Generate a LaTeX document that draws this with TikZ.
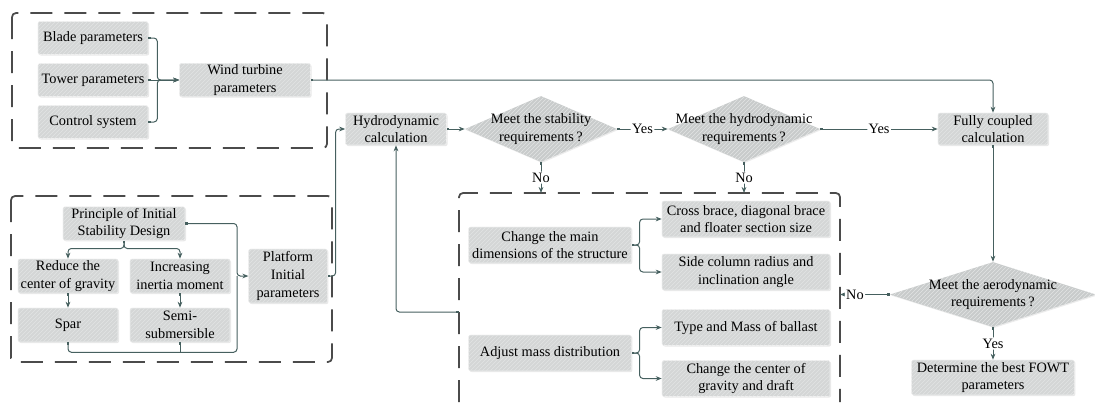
\documentclass[tikz,border=0pt]{standalone}
\usepackage{fontspec}
\setmainfont{LiberationSerif}[Extension=.ttf, UprightFont=*-Regular, BoldFont=*-Bold, ItalicFont=*-Italic, BoldItalicFont=*-BoldItalic]
\usetikzlibrary{shapes.geometric,arrows.meta,patterns,shadows}

\definecolor{boxgray}{RGB}{212,214,214}
\definecolor{decgray}{RGB}{200,203,203}
\definecolor{hatch}{RGB}{226,228,228}
\definecolor{linecol}{RGB}{70,96,95}
\definecolor{dashcol}{RGB}{75,75,75}

\tikzset{
  txt/.style={font=\rmfamily\fontsize{10.75}{13.2}\selectfont},
  blk/.style={txt, rectangle, rounded corners=1.5pt, fill=boxgray, draw=white!88!gray, line width=0.4pt,
    postaction={pattern=north east lines, pattern color=hatch},
    drop shadow={opacity=0.18, shadow xshift=0.8pt, shadow yshift=-0.8pt},
    inner sep=1pt, align=center},
  dec/.style={diamond, fill=decgray, inner sep=0pt,
    postaction={pattern=north east lines, pattern color=hatch},
    drop shadow={opacity=0.15, shadow xshift=0.8pt, shadow yshift=-0.8pt}},
  dectext/.style={txt, align=center},
  conn/.style={draw=linecol, line width=0.75pt, rounded corners=2.5pt,
    arrows={Square[length=2pt,width=2pt]-Stealth[length=4.5pt,width=3.5pt]}},
  stub/.style={draw=linecol, line width=0.75pt, rounded corners=2.5pt,
    arrows={Square[length=2pt,width=2pt]-}},
  lbl/.style={txt, fill=white, inner sep=1pt},
  grp/.style={draw=dashcol, line width=1.3pt, dash pattern=on 16.5pt off 9pt, rounded corners=3pt}
}

\begin{document}
\begin{tikzpicture}[x=0.75pt,y=-0.75pt]
\useasboundingbox (0,0) rectangle (1095,405);

% dashed groups
\draw[grp] (12,13) rectangle (327,148);
\draw[grp] (11,196) rectangle (332,362);
\draw[grp] (459,402) -- (459,193) -- (840,193) -- (840,402);

% wind turbine group
\node[blk, minimum width=82.5pt, minimum height=24.75pt] (blade) at (93,38) {Blade parameters};
\node[blk, minimum width=82.5pt, minimum height=24.75pt] (tower) at (93,80) {Tower parameters};
\node[blk, minimum width=82.5pt, minimum height=24.75pt] (ctrl) at (93,122) {Control system};
\node[blk, minimum width=98.25pt, minimum height=24.75pt] (wind) at (245,80) {Wind turbine\\parameters};

\draw[conn] (blade.east) -- ++(9,0) |- (wind.west);
\draw[conn] (tower.east) -- (wind.west);
\draw[conn] (ctrl.east) -- ++(9,0) |- (wind.west);

% platform group
\node[blk, minimum width=91.5pt, minimum height=24.75pt] (prin) at (124,223.5) {Principle of Initial\\Stability Design};
\node[blk, minimum width=75pt, minimum height=25.5pt] (red) at (68,276) {Reduce the\\center of gravity};
\node[blk, minimum width=75pt, minimum height=25.5pt] (inc) at (180,276) {Increasing\\inertia moment};
\node[blk, minimum width=75pt, minimum height=25.5pt] (spar) at (68,325) {Spar};
\node[blk, minimum width=75pt, minimum height=25.5pt] (semi) at (180,325) {Semi-\\submersible};
\node[blk, minimum width=59pt, minimum height=40.5pt] (plat) at (288,276) {Platform\\Initial\\parameters};
\coordinate (pj) at (237,276);

\draw[conn] (prin.south) -- ++(0,8) -| (red.north);
\draw[conn] (prin.south) -- ++(0,8) -| (inc.north);
\draw[conn] (red.south) -- (spar.north);
\draw[conn] (inc.south) -- (semi.north);
\draw[conn] (prin.east) -| (pj) -- (plat.west);
\draw[stub] (spar.south) -- ++(0,10) -| (pj);
\draw[stub] (semi.south) -- ++(0,10);

% main flow
\node[blk, minimum width=75.75pt, minimum height=24pt] (hydro) at (396,129) {Hydrodynamic\\calculation};
\node[dec, minimum width=114pt, minimum height=49.5pt,
  label={[dectext]center:Meet the stability\\requirements\,?}] (stab) at (541,129) {};
\node[dec, minimum width=114pt, minimum height=49.5pt,
  label={[dectext]center:Meet the hydrodynamic\\requirements\,?}] (hyd) at (744,129) {};
\node[blk, minimum width=82.5pt, minimum height=24pt] (fully) at (993,129) {Fully coupled\\calculation};
\node[dec, minimum width=154.5pt, minimum height=48.75pt,
  label={[dectext]center:Meet the aerodynamic\\requirements\,?}] (aero) at (993,294.5) {};
\node[blk, minimum width=122pt, minimum height=26.25pt] (best) at (993,377.5) {Determine the best FOWT\\parameters};

\draw[conn] (wind.east) -| (fully.north);
\draw[conn] (plat.east) -- ++(8,0) |- (hydro.west);
\draw[conn] (hydro.east) -- (stab.west);
\draw[conn] (stab.east) -- node[lbl]{Yes} (hyd.west);
\draw[conn] (hyd.east) -- node[lbl]{Yes} (fully.west);
\draw[conn] (fully.south) -- (aero.north);
\draw[conn] (aero.south) -- node[lbl]{Yes} (best.north);

% modification group
\node[blk, minimum width=122pt, minimum height=27pt] (chg) at (550,245) {Change the main\\dimensions of the structure};
\node[blk, minimum width=122pt, minimum height=27pt] (mass) at (550,353) {Adjust mass distribution};
\node[blk, minimum width=126pt, minimum height=27pt] (cross) at (746,219) {Cross brace, diagonal brace\\and floater section size};
\node[blk, minimum width=126pt, minimum height=27pt] (side) at (746,272) {Side column radius and\\inclination angle};
\node[blk, minimum width=126pt, minimum height=27pt] (ball) at (746,327.5) {Type and Mass of ballast};
\node[blk, minimum width=126pt, minimum height=27pt] (cog) at (746,378.5) {Change the center of\\gravity and draft};

\draw[conn] (chg.east) -- ++(8,0) |- (cross.west);
\draw[conn] (chg.east) -- ++(8,0) |- (side.west);
\draw[conn] (mass.east) -- ++(8,0) |- (ball.west);
\draw[conn] (mass.east) -- ++(8,0) |- (cog.west);

% feedback
\coordinate (nA) at (541,193);
\coordinate (nB) at (744,193);
\coordinate (nC) at (840,294.5);
\coordinate (fb) at (459,312);
\draw[conn] (stab.south) -- node[lbl]{No} (nA);
\draw[conn] (hyd.south) -- node[lbl]{No} (nB);
\draw[conn] (aero.west) -- node[lbl, pos=0.7]{No} (nC);
\draw[conn] (fb) -| (hydro.south);
\end{tikzpicture}
\end{document}
